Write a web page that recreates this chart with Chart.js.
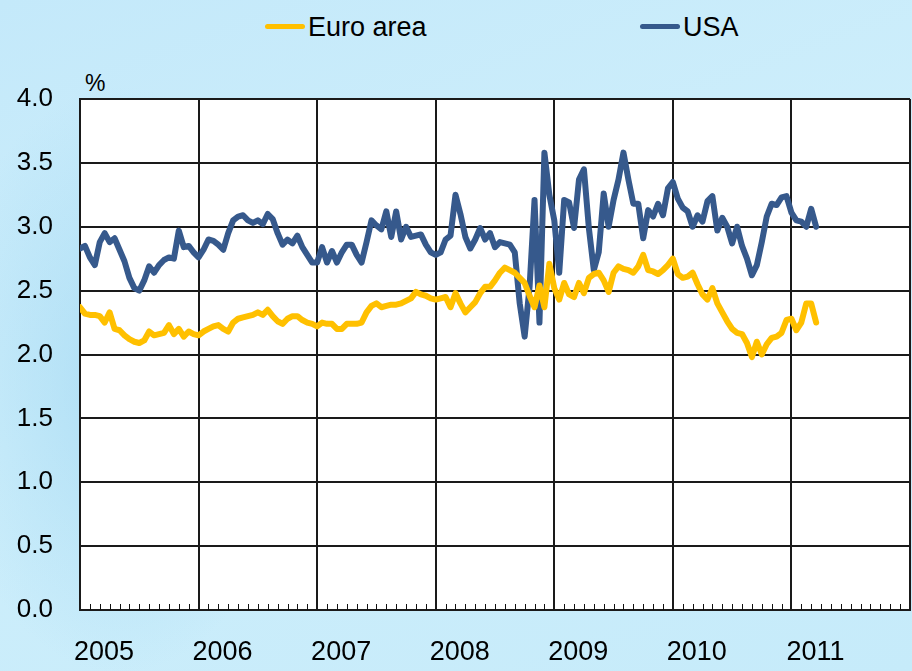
<!DOCTYPE html>
<html>
<head>
<meta charset="utf-8">
<script src="https://cdn.jsdelivr.net/npm/chart.js@4/dist/chart.umd.min.js"></script>
<style>
    html, body {
        margin: 0;
        padding: 0;
    }
    .wrap {
        position: relative;
        width: 912px;
        height: 671px;
        overflow: hidden;
        font-family: "Liberation Sans", Arial, sans-serif;
        background:
            radial-gradient(ellipse 260px 420px at 120px 380px, rgba(150, 210, 240, 0.55), rgba(150, 210, 240, 0) 70%),
            linear-gradient(160deg, #c4e9fa 0%, #cdeefb 45%, #c6ebfa 100%);
    }
    .legend {
        position: absolute;
        top: 12px;
        font-size: 27px;
        line-height: 30px;
        color: #000;
        white-space: nowrap;
    }
    .legend i {
        display: inline-block;
        width: 40px;
        height: 5px;
        border-radius: 3px;
        vertical-align: middle;
        margin-right: 3px;
        position: relative;
        top: -2px;
    }
    .unit {
        position: absolute;
        left: 85px;
        top: 70px;
        font-size: 23px;
        color: #000;
    }
    canvas {
        position: absolute;
        left: 0;
        top: 0;
    }
</style>
</head>
<body>
<div class="wrap">
    <div class="legend" style="left:265px"><i style="background:#ffc000"></i>Euro area</div>
    <div class="legend" style="left:640px"><i style="background:#36598c"></i>USA</div>
    <div class="unit">%</div>
    <canvas id="myChart" width="912" height="671"></canvas>
</div>
<script>
    // half-month observations, Jan 2005 .. mid-Mar 2011
    const years = ['2005', '2006', '2007', '2008', '2009', '2010', '2011'];
    const yTicks = [0, 0.5, 1, 1.5, 2, 2.5, 3, 3.5, 4];

    const euroArea = [
        2.37, 2.32, 2.31, 2.31, 2.30, 2.25, 2.33, 2.20, 2.19, 2.15, 2.12, 2.10,
        2.09, 2.11, 2.18, 2.15, 2.16, 2.17, 2.23, 2.16, 2.20, 2.14, 2.18, 2.16,
        2.15, 2.18, 2.20, 2.22, 2.23, 2.20, 2.18, 2.25, 2.28, 2.29, 2.30, 2.31,
        2.33, 2.31, 2.35, 2.30, 2.26, 2.24, 2.28, 2.30, 2.30, 2.27, 2.25, 2.24,
        2.22, 2.25, 2.24, 2.24, 2.20, 2.20, 2.24, 2.24, 2.24, 2.25, 2.33, 2.38,
        2.40, 2.37, 2.38, 2.39, 2.39, 2.40, 2.42, 2.44, 2.49, 2.47, 2.46, 2.44,
        2.43, 2.44, 2.45, 2.37, 2.48, 2.40, 2.33, 2.37, 2.41, 2.48, 2.53, 2.53,
        2.58, 2.64, 2.68, 2.66, 2.64, 2.60, 2.56, 2.46, 2.37, 2.54, 2.37, 2.71,
        2.52, 2.43, 2.56, 2.47, 2.45, 2.56, 2.48, 2.60, 2.63, 2.64, 2.58, 2.49,
        2.64, 2.69, 2.67, 2.66, 2.64, 2.69, 2.78, 2.66, 2.65, 2.63, 2.66, 2.70,
        2.75, 2.63, 2.60, 2.61, 2.64, 2.55, 2.47, 2.43, 2.52, 2.40, 2.33, 2.26,
        2.20, 2.17, 2.16, 2.09, 1.98, 2.10, 2.00, 2.08, 2.13, 2.14, 2.17, 2.27,
        2.28, 2.19, 2.25, 2.40, 2.40, 2.25
    ];

    const usa = [
        2.83, 2.85, 2.76, 2.70, 2.88, 2.95, 2.88, 2.91, 2.82, 2.73, 2.60, 2.52,
        2.50, 2.58, 2.69, 2.64, 2.70, 2.74, 2.76, 2.75, 2.97, 2.84, 2.85, 2.80,
        2.76, 2.82, 2.90, 2.89, 2.86, 2.82, 2.95, 3.05, 3.08, 3.09, 3.05, 3.03,
        3.05, 3.02, 3.10, 3.06, 2.95, 2.86, 2.90, 2.87, 2.93, 2.84, 2.78, 2.72,
        2.72, 2.84, 2.72, 2.81, 2.72, 2.80, 2.86, 2.86, 2.78, 2.72, 2.88, 3.05,
        3.01, 2.98, 3.12, 2.92, 3.12, 2.90, 3.00, 2.92, 2.93, 2.94, 2.86, 2.80,
        2.78, 2.80, 2.90, 2.93, 3.25, 3.10, 2.92, 2.83, 2.90, 2.99, 2.90, 2.95,
        2.84, 2.88, 2.87, 2.86, 2.80, 2.40, 2.14, 2.53, 3.21, 2.25, 3.58, 3.25,
        3.05, 2.64, 3.21, 3.19, 2.99, 3.37, 3.45, 2.99, 2.66, 2.80, 3.26, 3.00,
        3.21, 3.37, 3.58, 3.37, 3.18, 3.18, 2.91, 3.13, 3.08, 3.18, 3.09, 3.30,
        3.35, 3.22, 3.15, 3.12, 3.00, 3.09, 3.04, 3.20, 3.24, 2.97, 3.07, 3.00,
        2.87, 3.00, 2.85, 2.75, 2.62, 2.70, 2.88, 3.08, 3.18, 3.17, 3.23, 3.24,
        3.11, 3.05, 3.04, 3.00, 3.14, 3.00
    ];

    // x is measured in months from Jan 2005
    const toPoints = list => list.map((v, i) => ({ x: i / 2, y: v }));
    const totalMonths = years.length * 12;

    const plotBackground = {
        id: 'plotBackground',
        beforeDraw(chart) {
            const { ctx, chartArea: a } = chart;
            ctx.save();
            ctx.fillStyle = '#ffffff';
            ctx.fillRect(a.left, a.top, a.right - a.left, a.bottom - a.top);
            ctx.restore();
        }
    };

    // small monthly ticks standing on the bottom axis
    const monthTicks = {
        id: 'monthTicks',
        afterDraw(chart) {
            const { ctx, chartArea: a, scales: { x } } = chart;
            ctx.save();
            ctx.strokeStyle = '#111';
            ctx.lineWidth = 1;
            for (let m = 1; m < totalMonths; m++) {
                if (m % 12 === 0) continue;
                const px = Math.round(x.getPixelForValue(m)) + 0.5;
                ctx.beginPath();
                ctx.moveTo(px, a.bottom);
                ctx.lineTo(px, a.bottom - 6);
                ctx.stroke();
            }
            ctx.restore();
        }
    };

    const ctx = document.getElementById('myChart').getContext('2d');
    new Chart(ctx, {
        type: 'line',
        data: {
            datasets: [
                {
                    label: 'Euro area',
                    data: toPoints(euroArea),
                    borderColor: '#ffc000',
                    borderWidth: 6,
                    pointRadius: 0,
                    tension: 0,
                    borderJoinStyle: 'round',
                    borderCapStyle: 'round'
                },
                {
                    label: 'USA',
                    data: toPoints(usa),
                    borderColor: '#36598c',
                    borderWidth: 6,
                    pointRadius: 0,
                    tension: 0,
                    borderJoinStyle: 'round',
                    borderCapStyle: 'round'
                }
            ]
        },
        options: {
            responsive: false,
            animation: false,
            layout: {
                padding: { top: 99, right: 2, left: 0, bottom: 0 }
            },
            plugins: {
                legend: { display: false },
                tooltip: { enabled: false }
            },
            scales: {
                x: {
                    type: 'linear',
                    min: 0,
                    max: totalMonths,
                    afterFit: s => {
                        s.height = 61;
                        s.paddingLeft = 0;
                        s.paddingRight = 0;
                    },
                    afterBuildTicks: s => {
                        s.ticks = years.concat(['']).map((y, i) => ({ value: i * 12 }));
                    },
                    grid: {
                        color: '#1a1a1a',
                        lineWidth: 2,
                        drawTicks: false
                    },
                    border: { color: '#1a1a1a', width: 2 },
                    ticks: {
                        autoSkip: false,
                        maxRotation: 0,
                        padding: 26,
                        labelOffset: 24,
                        color: '#000',
                        font: { family: '"Liberation Sans", Arial, sans-serif', size: 27 },
                        callback: v => years[v / 12] || ''
                    }
                },
                y: {
                    min: 0,
                    max: 4,
                    afterFit: s => { s.width = 80; },
                    afterBuildTicks: s => {
                        s.ticks = yTicks.map(v => ({ value: v }));
                    },
                    grid: {
                        color: '#1a1a1a',
                        lineWidth: 2,
                        drawTicks: false
                    },
                    border: { color: '#1a1a1a', width: 2 },
                    ticks: {
                        padding: 27,
                        color: '#000',
                        font: { family: '"Liberation Sans", Arial, sans-serif', size: 26 },
                        callback: v => v.toFixed(1)
                    }
                }
            }
        },
        plugins: [plotBackground, monthTicks]
    });
</script>
</body>
</html>
